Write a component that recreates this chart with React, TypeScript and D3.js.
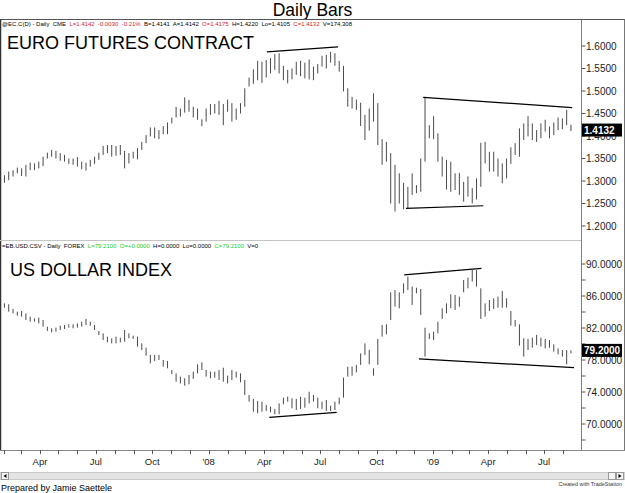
import React from "react";
import * as d3 from "d3";

// ---- categories: weekly bars (week ending Friday) ----
const firstWeek = new Date(2007, 0, 26);
const afterLastWeek = new Date(2009, 7, 15);

// ---- EURO futures weekly highs / lows ----
const eurHigh = [
  1.310, 1.313, 1.321, 1.324, 1.330, 1.328, 1.336, 1.341, 1.339, 1.343,
  1.354, 1.363, 1.369, 1.367, 1.362, 1.358, 1.350, 1.350, 1.353, 1.343,
  1.341, 1.347, 1.354, 1.363, 1.378, 1.380, 1.380, 1.378, 1.380, 1.367,
  1.362, 1.365, 1.373, 1.387, 1.402, 1.419, 1.419, 1.413, 1.422, 1.430,
  1.441, 1.465, 1.461, 1.486, 1.480, 1.465, 1.461, 1.437, 1.461, 1.471,
  1.471, 1.478, 1.471, 1.481, 1.473, 1.461, 1.473, 1.506, 1.530, 1.548,
  1.567, 1.565, 1.569, 1.573, 1.582, 1.584, 1.556, 1.547, 1.550, 1.565,
  1.567, 1.563, 1.570, 1.554, 1.560, 1.578, 1.580, 1.587, 1.584, 1.567,
  1.556, 1.506, 1.487, 1.481, 1.474, 1.447, 1.461, 1.495, 1.473, 1.393,
  1.387, 1.362, 1.336, 1.317, 1.296, 1.287, 1.317, 1.291, 1.350, 1.487,
  1.424, 1.444, 1.406, 1.354, 1.347, 1.343, 1.317, 1.318, 1.298, 1.310,
  1.284, 1.306, 1.385, 1.387, 1.365, 1.365, 1.350, 1.339, 1.350, 1.375,
  1.384, 1.417, 1.428, 1.444, 1.428, 1.413, 1.428, 1.436, 1.421, 1.430,
  1.441, 1.439, 1.458, 1.425,
];
const eurLow = [
  1.295, 1.296, 1.302, 1.310, 1.317, 1.311, 1.310, 1.324, 1.324, 1.328,
  1.333, 1.350, 1.354, 1.350, 1.345, 1.343, 1.338, 1.336, 1.332, 1.326,
  1.323, 1.332, 1.338, 1.347, 1.358, 1.362, 1.354, 1.356, 1.358, 1.328,
  1.339, 1.350, 1.348, 1.369, 1.384, 1.399, 1.395, 1.393, 1.404, 1.404,
  1.428, 1.441, 1.443, 1.452, 1.454, 1.441, 1.436, 1.422, 1.432, 1.447,
  1.450, 1.447, 1.424, 1.454, 1.432, 1.436, 1.450, 1.465, 1.510, 1.516,
  1.524, 1.518, 1.530, 1.539, 1.547, 1.539, 1.524, 1.517, 1.526, 1.536,
  1.533, 1.528, 1.526, 1.524, 1.539, 1.554, 1.550, 1.563, 1.556, 1.543,
  1.499, 1.465, 1.461, 1.458, 1.422, 1.391, 1.412, 1.432, 1.380, 1.336,
  1.343, 1.250, 1.232, 1.250, 1.237, 1.239, 1.269, 1.273, 1.276, 1.343,
  1.395, 1.393, 1.343, 1.310, 1.281, 1.276, 1.280, 1.269, 1.254, 1.265,
  1.250, 1.259, 1.287, 1.339, 1.321, 1.321, 1.310, 1.295, 1.306, 1.338,
  1.358, 1.354, 1.391, 1.399, 1.391, 1.387, 1.395, 1.410, 1.395, 1.402,
  1.413, 1.415, 1.424, 1.411,
];

// ---- US Dollar Index weekly highs / lows ----
const dxyHigh = [
  84.96, 85.08, 84.96, 84.38, 84.04, 84.13, 83.83, 83.42, 83.21, 83.29,
  83.00, 82.17, 81.96, 82.04, 82.29, 82.38, 82.46, 82.46, 82.58, 82.79,
  83.13, 82.79, 82.38, 81.63, 81.33, 80.92, 80.71, 80.92, 80.79, 81.75,
  81.33, 81.04, 80.92, 80.08, 79.54, 78.63, 78.63, 78.63, 78.00, 77.88,
  76.75, 76.33, 75.92, 75.71, 76.13, 76.54, 77.46, 77.71, 76.75, 76.54,
  76.54, 76.75, 77.04, 76.04, 76.75, 76.54, 76.33, 75.50, 73.63, 73.13,
  72.88, 72.79, 72.38, 72.17, 71.88, 72.58, 73.29, 73.42, 73.21, 73.13,
  73.42, 73.29, 74.04, 73.63, 73.29, 72.79, 73.00, 72.29, 72.79, 73.29,
  75.79, 77.17, 77.17, 77.38, 78.83, 80.08, 79.25, 76.96, 80.63, 82.38,
  82.46, 86.46, 86.75, 86.46, 87.58, 88.42, 87.17, 87.04, 86.88, 82.04,
  81.33, 81.54, 82.79, 84.46, 85.08, 86.21, 86.13, 85.92, 88.00, 88.29,
  89.25, 89.25, 86.96, 85.08, 85.50, 85.71, 85.92, 86.63, 85.71, 84.13,
  83.00, 82.46, 80.71, 80.63, 80.79, 81.13, 80.79, 80.63, 80.50, 79.96,
  79.46, 79.25, 79.25, 79.21,
];
const dxyLow = [
  84.54, 84.54, 84.04, 83.83, 83.54, 83.42, 83.00, 82.79, 82.79, 82.58,
  82.17, 81.63, 81.46, 81.54, 81.75, 81.88, 82.04, 81.96, 82.04, 82.17,
  82.38, 82.29, 81.75, 81.13, 80.50, 80.21, 80.08, 80.08, 80.21, 80.29,
  80.71, 80.63, 79.67, 79.25, 78.54, 77.58, 77.88, 78.00, 77.17, 76.96,
  76.21, 75.29, 75.08, 74.79, 74.96, 75.63, 76.33, 76.75, 75.92, 75.71,
  75.79, 75.50, 75.29, 75.08, 75.50, 75.79, 75.21, 73.63, 72.79, 71.54,
  71.33, 71.54, 71.63, 71.46, 71.21, 71.21, 72.46, 72.79, 71.96, 71.75,
  71.88, 72.04, 72.58, 72.79, 71.96, 71.88, 71.63, 71.63, 71.75, 72.46,
  73.29, 75.92, 76.04, 76.46, 77.38, 78.63, 77.46, 76.04, 77.38, 80.92,
  81.21, 83.00, 84.67, 84.46, 86.33, 86.75, 84.88, 86.33, 83.63, 78.42,
  80.63, 80.50, 81.33, 83.13, 83.83, 84.46, 84.25, 84.67, 86.46, 86.96,
  87.79, 87.17, 83.13, 83.42, 84.13, 84.38, 84.54, 84.54, 84.54, 82.29,
  82.17, 79.79, 78.42, 79.25, 79.54, 79.88, 79.67, 79.46, 79.54, 79.04,
  78.71, 78.42, 77.46, 78.83,
];

// ---- hand-drawn trend lines: [start date, start value, end date, end value] ----
const eurTrendLines: [Date, number, Date, number][] = [
  [new Date(2008, 3, 5), 1.587, new Date(2008, 6, 30), 1.598],
  [new Date(2008, 11, 16), 1.486, new Date(2009, 7, 16), 1.463],
  [new Date(2008, 10, 18), 1.239, new Date(2009, 2, 24), 1.245],
];
const dxyTrendLines: [Date, number, Date, number][] = [
  [new Date(2008, 3, 9), 70.83, new Date(2008, 6, 28), 71.46],
  [new Date(2008, 10, 15), 88.63, new Date(2009, 2, 21), 89.46],
  [new Date(2008, 11, 9), 78.13, new Date(2009, 7, 19), 77.04],
];

// ---- axis ticks ----
const eurTicks = [1.6, 1.55, 1.5, 1.45, 1.4, 1.35, 1.3, 1.25, 1.2];
const dxyTicks = [90, 86, 82, 78, 74, 70];
const dxyMinorTicks = [88, 84, 80, 76, 72, 68];
const quarterDates = [
  new Date(2007, 3, 1), new Date(2007, 6, 1), new Date(2007, 9, 1), new Date(2008, 0, 1),
  new Date(2008, 3, 1), new Date(2008, 6, 1), new Date(2008, 9, 1), new Date(2009, 0, 1),
  new Date(2009, 3, 1), new Date(2009, 6, 1),
];
const quarterLabels = ["Apr", "Jul", "Oct", "'08", "Apr", "Jul", "Oct", "'09", "Apr", "Jul"];

const eurLast = 1.4132;
const dxyLast = 79.2;

const RED = "#e02020";
const GREEN = "#22cc22";
const BLK = "#000";
const eurHeader: [string, string][] = [
  ["@EC.C(D) - Daily  CME  ", BLK],
  ["L=1.4142  -0.0030  -0.21%  ", RED],
  ["B=1.4141  A=1.4142  ", BLK],
  ["O=1.4175  ", RED],
  ["H=1.4220  Lo=1.4105  ", BLK],
  ["C=1.4132  ", RED],
  ["V=174,308", BLK],
];
const dxyHeader: [string, string][] = [
  ["=EB.USD.CSV - Daily  FOREX  ", BLK],
  ["L=79.2100  O=+0.0000  ", GREEN],
  ["H=0.0000  Lo=0.0000  ", BLK],
  ["C=79.2100  ", GREEN],
  ["V=0", BLK],
];

const FONT = "Arial, 'Liberation Sans', Helvetica, sans-serif";

export default function App() {
  const W = 625;
  const H = 493;
  const axisX = 581.5;
  const weeks = d3.timeFriday.range(firstWeek, afterLastWeek);
  const months = d3.timeMonth.range(new Date(2007, 1, 1), new Date(2009, 8, 1));

  const x = d3.scaleTime()
    .domain([new Date(2007, 3, 1), new Date(2009, 0, 1)])
    .range([40, 433]);
  const yE = d3.scaleLinear().domain([1.2, 1.6]).range([226, 46]);
  const yD = d3.scaleLinear().domain([70, 90]).range([424, 264]);
  const fmt = d3.format(".4f");

  const bars = (hi: number[], lo: number[], y: d3.ScaleLinear<number, number>) =>
    weeks.map((d, i) =>
      hi[i] === undefined ? null : (
        <line key={i} x1={x(d)} x2={x(d)} y1={y(hi[i])} y2={y(lo[i])}
          stroke="#4a4a4a" strokeWidth={1} />
      ));

  const trend = (lines: [Date, number, Date, number][], y: d3.ScaleLinear<number, number>) =>
    lines.map((l, i) => (
      <line key={i} x1={x(l[0])} y1={y(l[1])} x2={x(l[2])} y2={y(l[3])}
        stroke="#000" strokeWidth={1.2} />
    ));

  const header = (segs: [string, string][], yPos: number) => (
    <text x={2} y={yPos} fontSize={6} fontFamily={FONT} style={{ whiteSpace: "pre" }}>
      {segs.map((s, i) => <tspan key={i} fill={s[1]}>{s[0]}</tspan>)}
    </text>
  );

  const valueBox = (yv: number, label: string) => (
    <g>
      <rect x={582} y={yv - 6.5} width={40} height={13} fill="#000" />
      <text x={584} y={yv} dy="0.36em" fontSize={10} fontWeight="bold" fill="#fff"
        fontFamily={FONT}>{label}</text>
    </g>
  );

  return (
    <svg width={W} height={H} style={{ position: "absolute", left: 0, top: 0, background: "#fff" }}>
      <defs>
        <clipPath id="plot"><rect x={1} y={20} width={580} height={430} /></clipPath>
      </defs>
      <rect x={0} y={0} width={W} height={H} fill="#fff" />

      {/* Title */}
      <text x={312.5} y={16} textAnchor="middle" fontSize={17.5} fontFamily={FONT} fill="#000">Daily Bars</text>

      {/* Frame */}
      <line x1={0} x2={W} y1={19.5} y2={19.5} stroke="#555" />
      <line x1={0.5} x2={0.5} y1={19.5} y2={450.5} stroke="#333" strokeWidth={1.5} />
      <line x1={624.5} x2={624.5} y1={19.5} y2={450.5} stroke="#777" />
      <line x1={0} x2={axisX} y1={240.5} y2={240.5} stroke="#c4c4c4" />
      <line x1={axisX} x2={axisX} y1={19.5} y2={450.5} stroke="#a07070" />
      <line x1={0} x2={W} y1={450.5} y2={450.5} stroke="#888" />

      {/* Headers */}
      {header(eurHeader, 26)}
      {header(dxyHeader, 248)}

      {/* Panel titles */}
      <text x={7} y={49} fontSize={18} fontFamily={FONT} fill="#000">EURO FUTURES CONTRACT</text>
      <text x={10} y={276} fontSize={18} fontFamily={FONT} fill="#000">US DOLLAR INDEX</text>

      {/* Bars */}
      <g clipPath="url(#plot)">
        {bars(eurHigh, eurLow, yE)}
        {bars(dxyHigh, dxyLow, yD)}
        {trend(eurTrendLines, yE)}
        {trend(dxyTrendLines, yD)}
      </g>

      {/* Right axis: EUR */}
      {eurTicks.map((t, i) => (
        <g key={"e" + i}>
          <line x1={axisX} x2={axisX + 4} y1={yE(t)} y2={yE(t)} stroke="#555" />
          <text x={586} y={yE(t)} dy="0.35em" fontSize={10} fontFamily={FONT} fill="#222">{fmt(t)}</text>
        </g>
      ))}
      {valueBox(yE(eurLast), fmt(eurLast))}

      {/* Right axis: DXY */}
      {dxyMinorTicks.map((t, i) => (
        <line key={"dm" + i} x1={axisX} x2={axisX + 4} y1={yD(t)} y2={yD(t)} stroke="#555" />
      ))}
      {dxyTicks.map((t, i) => (
        <g key={"d" + i}>
          <line x1={axisX} x2={axisX + 4} y1={yD(t)} y2={yD(t)} stroke="#555" />
          <text x={586} y={yD(t)} dy="0.35em" fontSize={10} fontFamily={FONT} fill="#222">{fmt(t)}</text>
        </g>
      ))}
      {valueBox(yD(dxyLast), fmt(dxyLast))}

      {/* Time axis */}
      {months.map((m, i) => (
        <line key={"m" + i} x1={Math.round(x(m)) + 0.5} x2={Math.round(x(m)) + 0.5} y1={450} y2={454} stroke="#555" />
      ))}
      {quarterDates.map((q, i) => (
        <text key={"q" + i} x={x(q)} y={465} textAnchor="middle" fontSize={9.5} fontFamily={FONT} fill="#222">
          {quarterLabels[i]}
        </text>
      ))}

      {/* Scrollbar */}
      <rect x={0} y={472.5} width={W} height={7} fill="#e4e4e4" stroke="#c8c8c8" />
      <rect x={1.5} y={472.5} width={7} height={7} fill="#f4f4f4" stroke="#999" />
      <path d="M3.5,476 L6.5,474 L6.5,478 Z" fill="#000" />
      <rect x={608.5} y={472.5} width={7} height={7} fill="#f4f4f4" stroke="#999" />
      <rect x={616.5} y={472.5} width={7} height={7} fill="#f4f4f4" stroke="#999" />
      <path d="M621.5,476 L618.5,474 L618.5,478 Z" fill="#000" />

      <text x={622} y={485.5} textAnchor="end" fontSize={5.5} fontFamily={FONT} fill="#333">Created with TradeStation</text>
      <text x={1} y={491} fontSize={9} fontFamily={FONT} fill="#000">Prepared by Jamie Saettele</text>
    </svg>
  );
}
